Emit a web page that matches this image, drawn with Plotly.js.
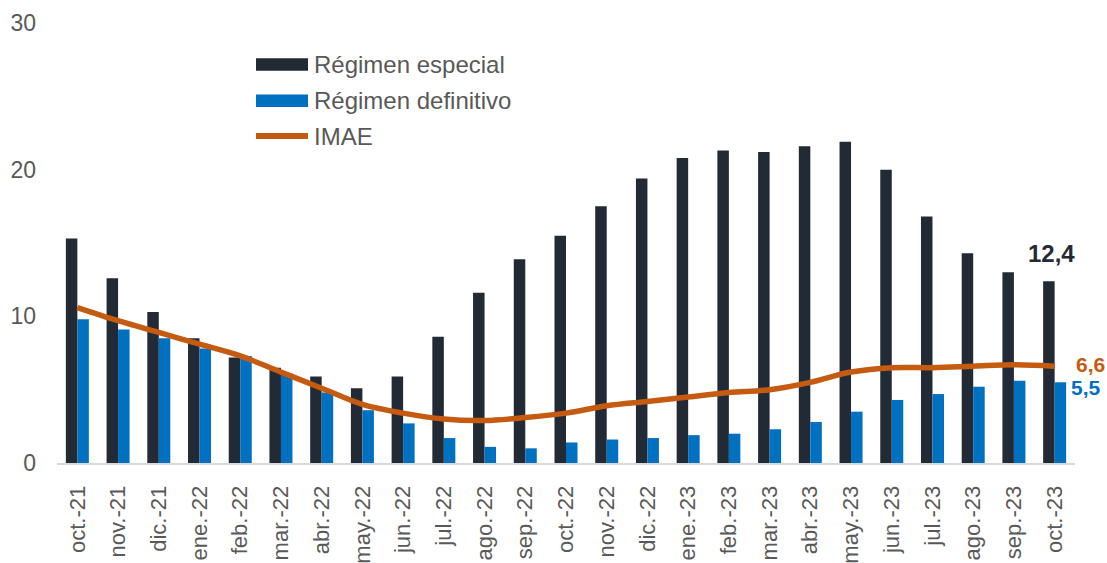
<!DOCTYPE html>
<html>
<head>
<meta charset="utf-8">
<script src="https://cdn.plot.ly/plotly-3.0.1.min.js"></script>
<style>html,body{margin:0;padding:0;background:#fff;}#chart{width:1107px;height:563px;}</style>
</head>
<body>
<div id="chart"></div>
<script>
var categories = ["oct.-21","nov.-21","dic.-21","ene.-22","feb.-22","mar.-22","abr.-22","may.-22","jun.-22","jul.-22","ago.-22","sep.-22","oct.-22","nov.-22","dic.-22","ene.-23","feb.-23","mar.-23","abr.-23","may.-23","jun.-23","jul.-23","ago.-23","sep.-23","oct.-23"];
var regimenEspecial = [15.3,12.6,10.3,8.5,7.2,6.5,5.9,5.1,5.9,8.6,11.6,13.9,15.5,17.5,19.4,20.8,21.3,21.2,21.6,21.9,20.0,16.8,14.3,13.0,12.4];
var regimenDefinitivo = [9.8,9.1,8.5,7.8,7.3,6.1,4.8,3.6,2.7,1.7,1.1,1.0,1.4,1.6,1.7,1.9,2.0,2.3,2.8,3.5,4.3,4.7,5.2,5.6,5.5];
var imae = [10.6,9.7,8.9,8.1,7.3,6.2,5.1,4.0,3.4,3.0,2.9,3.1,3.4,3.9,4.2,4.5,4.8,5.0,5.5,6.2,6.5,6.5,6.6,6.7,6.6];
var seriesNames = ["Régimen especial","Régimen definitivo","IMAE"];
var seriesColors = ["#222a35","#0070c0","#c55a11"];

var W = 1107, H = 563;
var M = {l:57, r:32, t:23, b:100};
var FONT = "Liberation Sans, Arial, sans-serif";
var TXT = "#595959";
function px(x){ return (x - M.l) / (W - M.l - M.r); }
function py(y){ return (H - M.b - y) / (H - M.t - M.b); }

var traces = [
  {type:"bar", name:seriesNames[0], x:categories, y:regimenEspecial, marker:{color:seriesColors[0], line:{width:0}}, showlegend:false, hoverinfo:"x+y"},
  {type:"bar", name:seriesNames[1], x:categories, y:regimenDefinitivo, marker:{color:seriesColors[1], line:{width:0}}, showlegend:false, hoverinfo:"x+y"},
  {type:"scatter", mode:"lines", name:seriesNames[2], x:categories, y:imae, line:{color:seriesColors[2], width:5.5, shape:"spline", smoothing:1}, showlegend:false}
];

var last = categories.length - 1;
var shapes = [], annotations = [];
var rows = [64.5, 100.8, 136];
for (var i = 0; i < 3; i++) {
  if (i < 2) {
    shapes.push({type:"rect", xref:"paper", yref:"paper", x0:px(256), x1:px(308), y0:py(rows[i]-6.2), y1:py(rows[i]+6.2), fillcolor:seriesColors[i], line:{width:0}});
  } else {
    shapes.push({type:"line", xref:"paper", yref:"paper", x0:px(256), x1:px(308), y0:py(rows[i]), y1:py(rows[i]), line:{color:seriesColors[i], width:6}});
  }
  annotations.push({xref:"paper", yref:"paper", x:px(312), y:py(rows[i]), xanchor:"left", yanchor:"middle", text:seriesNames[i], showarrow:false, font:{family:FONT, size:24, color:TXT}});
}
annotations.push({x:categories[last], y:regimenEspecial[last], xref:"x", yref:"y", text:"<b>12,4</b>", showarrow:false, xanchor:"center", yanchor:"bottom", xshift:-3, yshift:12, font:{family:FONT, size:24, color:seriesColors[0]}});
annotations.push({x:categories[last], y:imae[last], xref:"x", yref:"y", text:"<b>6,6</b>", showarrow:false, xanchor:"left", yanchor:"middle", xshift:19, yshift:1.5, font:{family:FONT, size:21, color:seriesColors[2]}});
annotations.push({x:categories[last], y:regimenDefinitivo[last], xref:"x", yref:"y", text:"<b>5,5</b>", showarrow:false, xanchor:"left", yanchor:"middle", xshift:14, yshift:-5.5, font:{family:FONT, size:21, color:seriesColors[1]}});

var layout = {
  width:W, height:H,
  margin:M,
  paper_bgcolor:"#fff", plot_bgcolor:"#fff",
  font:{family:FONT, color:TXT},
  barmode:"group", bargap:0.435, bargroupgap:0,
  showlegend:false,
  xaxis:{type:"category", range:[-0.5, categories.length - 0.5], autorange:false, showline:true, linecolor:"#d9d9d9", linewidth:2, ticks:"", tickangle:-90, tickfont:{family:FONT, size:22, color:TXT}, showgrid:false, zeroline:false, ticklabelstandoff:12},
  yaxis:{range:[0,30], autorange:false, dtick:10, showgrid:false, zeroline:false, showline:false, ticks:"", tickfont:{family:FONT, size:23, color:TXT}, ticklabelstandoff:20},
  shapes:shapes,
  annotations:annotations
};
Plotly.newPlot("chart", traces, layout, {displayModeBar:false, staticPlot:true});
</script>
</body>
</html>
